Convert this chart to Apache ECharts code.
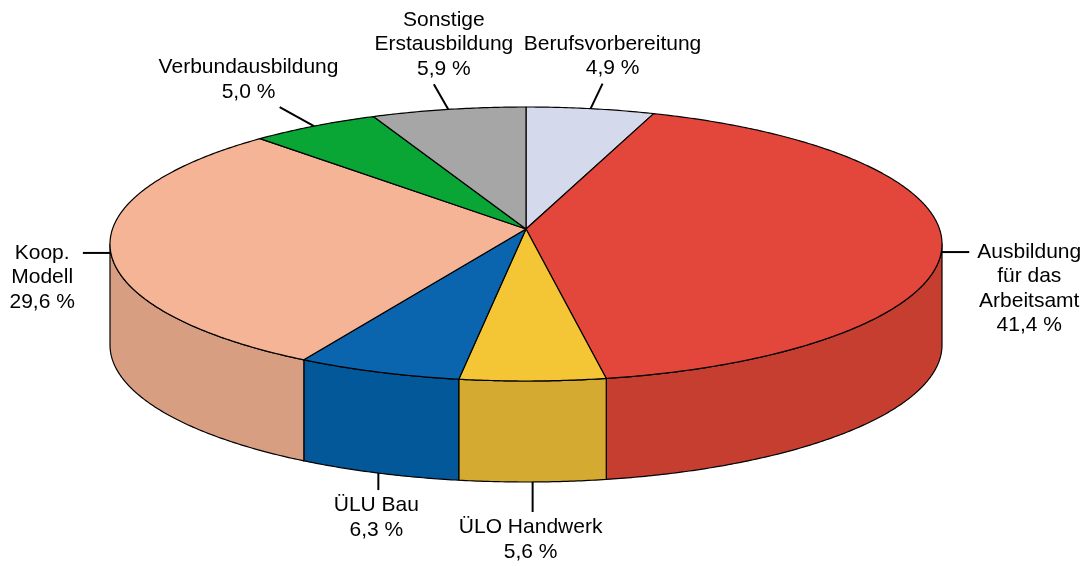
<!DOCTYPE html>
<html>
<head>
<meta charset="utf-8">
<script src="https://cdn.jsdelivr.net/npm/echarts@6/dist/echarts.min.js"></script>
<style>
html, body { margin: 0; padding: 0; background: #fff; }
#main { width: 1090px; height: 566px; }
</style>
</head>
<body>
<div id="main"></div>
<script>
// Anteile der Maßnahmen (Prozent), im Uhrzeigersinn ab 12 Uhr
var names = ['Berufsvorbereitung', 'Ausbildung\nfür das\nArbeitsamt', 'ÜLO Handwerk', 'ÜLU Bau', 'Koop.\nModell', 'Verbundausbildung', 'Sonstige\nErstausbildung'];
var values = [4.9, 41.4, 5.6, 6.3, 29.6, 5.0, 5.9];

var topColors = ['#d5d9ec', '#e3473b', '#f4c534', '#0b64ae', '#f4b495', '#09a535', '#a6a6a6'];
var sideColors = ['#b9bdd0', '#c63e30', '#d5aa31', '#025898', '#d89e82', '#078a2c', '#8c8c8c'];

// Ellipsen-Geometrie des "3D"-Kuchens
var cx = 526, cy = 244, rx = 416, ry = 137, depth = 101, apexDy = -15;
var font = '21px "Liberation Sans", Arial, sans-serif';
var lineH = 24.5;

var total = values.reduce(function (a, b) { return a + b; }, 0);

var measure = document.createElement('canvas').getContext('2d');
measure.font = font;
function textWidth(t) {
    return Math.max.apply(null, t.split('\n').map(function (l) { return measure.measureText(l).width; }));
}

function pt(deg, dy) {
    var r = deg * Math.PI / 180;
    return [cx + rx * Math.sin(r), cy - ry * Math.cos(r) + (dy || 0)];
}
function arc(a, b, dy) {
    var n = Math.max(2, Math.ceil((b - a) / 0.5));
    var pts = [];
    for (var k = 0; k <= n; k++) pts.push(pt(a + (b - a) * k / n, dy));
    return pts;
}
function midAngle(i) {
    var before = 0;
    for (var k = 0; k < i; k++) before += values[k];
    return (before + values[i] / 2) / total * 360;
}
function isFront(m) { return m > 100 && m < 260; }

function renderItem(params, api) {
    var i = params.dataIndex;
    var v = api.value(0);
    var before = 0;
    for (var k = 0; k < i; k++) before += values[k];
    var a0 = before / total * 360, a1 = (before + v) / total * 360;
    var children = [];

    // Seitenwand (nur vordere Hälfte sichtbar)
    if (a0 < 270 && a1 > 90) {
        var s = Math.max(a0, 90), e = Math.min(a1, 270);
        children.push({
            type: 'polygon', z2: 1,
            shape: { points: arc(s, e, 0).concat(arc(s, e, depth).reverse()) },
            style: { fill: sideColors[i], stroke: '#000', lineWidth: 1.2, lineJoin: 'round' }
        });
    }
    // Deckfläche
    children.push({
        type: 'polygon', z2: 2,
        shape: { points: [[cx, cy + apexDy]].concat(arc(a0, a1, 0)) },
        style: { fill: topColors[i], stroke: '#000', lineWidth: 1.2, lineJoin: 'round' }
    });

    // Beschriftung mit Führungslinie
    var m = (a0 + a1) / 2;
    var anchor, dir, len;
    if (isFront(m)) {
        // vordere Beschriftungen abwechselnd lang/kurz, damit sie sich nicht überlappen
        var nFront = 0;
        for (var j = 0; j < i; j++) if (isFront(midAngle(j))) nFront++;
        anchor = pt(m, depth); dir = [0, 1]; len = nFront % 2 === 0 ? 30 : 17;
    } else {
        anchor = pt(m, 0);
        var r = m * Math.PI / 180;
        var dx = rx * Math.sin(r), dy = -ry * Math.cos(r);
        var d = Math.sqrt(dx * dx + dy * dy);
        dir = [dx / d, dy / d];
        if (Math.abs(dir[0]) > 0.95) { dir = [dir[0] > 0 ? 1 : -1, 0]; len = 28; }
        else len = 24 + 20 * dir[0] * dir[0];
    }
    var end = [anchor[0] + dir[0] * len, anchor[1] + dir[1] * len];
    children.push({
        type: 'line', z2: 3,
        shape: { x1: anchor[0], y1: anchor[1], x2: end[0], y2: end[1] },
        style: { stroke: '#000', lineWidth: 2 }
    });

    var txt = names[i] + '\n' + v.toFixed(1).replace('.', ',') + ' %';
    var tx, ty, va;
    if (dir[1] > 0.9) {
        tx = end[0] - 2; ty = end[1] + 3; va = 'top';
    } else if (dir[1] === 0) {
        var w = textWidth(txt);
        tx = end[0] + dir[0] * (8 + w / 2);
        ty = end[1] - lineH / 2; va = 'top';
    } else {
        tx = end[0] + 10 - (dir[0] < -0.5 ? (-dir[0] - 0.5) * 110 : 0);
        ty = end[1] - 3; va = 'bottom';
    }
    children.push({
        type: 'text', z2: 4,
        style: {
            text: txt, x: tx, y: ty, font: font, fill: '#000',
            align: 'center', verticalAlign: va, lineHeight: lineH
        }
    });

    return { type: 'group', children: children };
}

var chart = echarts.init(document.getElementById('main'));
chart.setOption({
    animation: false,
    series: [{
        type: 'custom',
        coordinateSystem: 'none',
        silent: true,
        renderItem: renderItem,
        data: values.map(function (v) { return [v]; })
    }]
});
</script>
</body>
</html>
